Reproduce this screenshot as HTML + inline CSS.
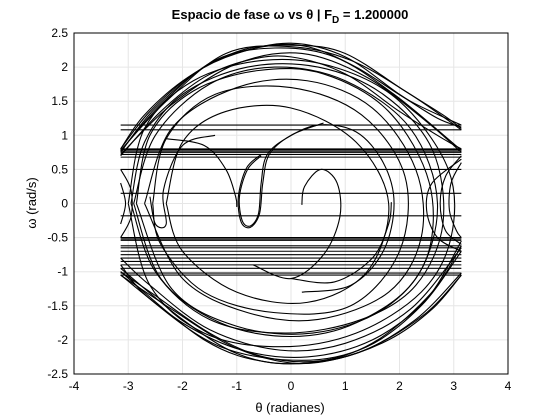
<!DOCTYPE html>
<html><head><meta charset="utf-8"><style>
body{margin:0;background:#fff;}
svg{display:block;font-family:"Liberation Sans",sans-serif;}
</style></head><body>
<svg id="chart" width="560" height="420">
<rect width="560" height="420" fill="#fff"/>
<g id="grid"></g>
<g id="series"></g>
<rect x="74" y="33" width="434" height="341" fill="none" stroke="#000" stroke-width="1"/>
<g id="ticks"></g>
<text x="290" y="19" text-anchor="middle" font-size="13" font-weight="bold">Espacio de fase ω vs θ | F<tspan font-size="10" dy="4">D</tspan><tspan dy="-4"> = 1.200000</tspan></text>
<text x="290" y="412" text-anchor="middle" font-size="13">θ (radianes)</text>
<text x="0" y="0" transform="translate(36,203) rotate(-90)" text-anchor="middle" font-size="13">ω (rad/s)</text>
</svg>
<script>
const xTicks=[-4,-3,-2,-1,0,1,2,3,4];
const yTicks=[-2.5,-2,-1.5,-1,-0.5,0,0.5,1,1.5,2,2.5];
const wrapLevels=[1.15,1.08,0.8,0.79,0.77,0.75,0.72,0.68,0.5,0.15,-0.18,-0.5,-0.52,-0.54,-0.62,-0.65,-0.7,-0.75,-0.8,-0.85,-0.9,-0.95,-1.02,-1.05];
const upperArcs=[
[[-3.14,0.8],[-2.6,1.35],[-1.8,1.9],[-1,2.2],[0,2.35],[1,2.15],[2,1.6],[2.7,1.25],[3.14,1.12]],
[[-3.14,0.75],[-2.5,1.4],[-1.5,2.05],[-0.5,2.3],[0.3,2.3],[1.2,2.0],[2.2,1.5],[3.14,1.15]],
[[-3.14,0.7],[-2.4,1.35],[-1.6,1.85],[-0.8,2.1],[0,2.15],[1,1.9],[2,1.35],[2.8,0.95],[3.14,0.8]],
[[-3.14,0.78],[-2.3,1.5],[-1.2,2.2],[0,2.3],[1.1,2.1],[2.2,1.6],[3.14,1.08]],
[[-3.14,0.72],[-2.2,1.45],[-1.0,2.05],[0.2,2.2],[1.4,1.85],[2.5,1.2],[3.14,0.75]],
[[-3.14,0.8],[-2.7,1.3],[-1.9,1.85],[-0.9,2.25],[0.1,2.32],[1.0,2.2],[2.1,1.65],[2.8,1.3],[3.14,1.1]],
[[-3.14,0.77],[-2.4,1.45],[-1.4,2.1],[-0.3,2.28],[0.8,2.15],[1.9,1.6],[3.14,0.78]]
];
const lowerArcs=[
[[3.14,-1.05],[2.5,-1.6],[1.5,-2.1],[0.5,-2.33],[-0.3,-2.3],[-1.2,-2.05],[-2.2,-1.55],[-3.14,-1.05]],
[[3.14,-0.62],[2.6,-1.3],[1.6,-2.0],[0.6,-2.3],[-0.5,-2.25],[-1.5,-1.9],[-2.5,-1.35],[-3.14,-1.0]],
[[3.14,-1.02],[2.3,-1.7],[1.2,-2.2],[0,-2.35],[-1,-2.2],[-2,-1.7],[-3.14,-0.95]],
[[3.14,-0.7],[2.4,-1.5],[1.4,-2.1],[0.2,-2.3],[-1.3,-2.1],[-2.6,-1.4],[-3.14,-0.9]],
[[3.14,-0.65],[2.2,-1.55],[1.0,-2.05],[-0.2,-2.15],[-1.5,-1.85],[-2.6,-1.2],[-3.14,-0.8]],
[[3.14,-0.55],[2.5,-1.4],[1.5,-2.0],[0.3,-2.25],[-0.9,-2.15],[-2.0,-1.75],[-3.14,-1.05]],
[[3.14,-1.05],[2.6,-1.55],[1.8,-2.0],[0.8,-2.28],[-0.4,-2.33],[-1.6,-2.0],[-3.14,-1.0]]
];
const loops=[
[[-2.9,0],[-2.5,1.0],[-1.5,1.75],[-0.3,2.0],[1,1.8],[2.2,1.1],[2.7,0],[2.3,-1.1],[1.2,-1.75],[0,-1.95],[-1.3,-1.75],[-2.4,-1.1],[-2.9,0]],
[[-2.7,0],[-2.2,1.1],[-1,1.7],[0.3,1.8],[1.5,1.4],[2.3,0.5],[2.4,-0.5],[1.8,-1.3],[0.5,-1.7],[-0.8,-1.6],[-2.0,-1.1],[-2.7,0]],
[[-2.3,0],[-2.0,0.9],[-1.2,1.35],[0,1.4],[1.2,0.9],[1.8,0],[1.4,-1.0],[0.3,-1.45],[-1,-1.3],[-2,-0.7],[-2.3,0]],
[[-3.0,0],[-2.7,1.1],[-1.8,1.8],[-0.5,2.1],[0.8,2.0],[2.0,1.5],[2.9,0.5],[2.95,-0.5],[2.4,-1.3],[1.2,-1.9],[-0.2,-2.1],[-1.6,-1.9],[-2.6,-1.2],[-3.0,0]],
[[-2.55,0],[-2.3,0.95],[-1.4,1.6],[0,1.7],[1.3,1.3],[2.1,0.4],[2.0,-0.7],[1.1,-1.5],[-0.3,-1.6],[-1.6,-1.3],[-2.4,-0.6],[-2.55,0]],
[[-2.85,0],[-2.6,1.0],[-1.8,1.65],[-0.6,1.95],[0.6,1.9],[1.8,1.35],[2.55,0.3],[2.5,-0.8],[1.7,-1.55],[0.4,-1.9],[-1.0,-1.8],[-2.2,-1.25],[-2.85,0]],
[[-2.95,0],[-2.7,0.9],[-2.0,1.6],[-0.8,2.0],[0.5,2.0],[1.7,1.6],[2.6,0.8],[2.8,-0.3],[2.3,-1.2],[1.3,-1.7],[-0.1,-1.9],[-1.5,-1.7],[-2.5,-1.0],[-2.95,0]]
];
const spirals=[
[[-2.3,0.95],[-1.6,0.85],[-1.2,0.5],[-1.02,0.1],[-1.0,-0.05]],
[[-0.55,0.7],[-0.8,0.5],[-0.95,0.1],[-0.9,-0.25],[-0.75,-0.33],[-0.6,-0.15],[-0.55,0.3],[-0.45,0.7],[-0.1,0.95],[0.5,1.15],[1.2,1.05],[1.7,0.6],[1.9,0],[1.7,-0.7],[1.1,-1.2],[0.2,-1.3]],
[[-0.55,0.72],[-0.82,0.52],[-0.97,0.1],[-0.92,-0.27],[-0.75,-0.35],[-0.58,-0.15],[-0.52,0.3],[-0.4,0.72],[0,1.0],[0.6,1.18]],
[[0.2,-0.02],[0.25,0.25],[0.55,0.5],[0.85,0.3],[0.9,-0.2],[0.6,-0.75],[0,-1.1],[-0.7,-0.9]],
[[3.14,0.7],[2.85,0.4],[2.75,0],[2.85,-0.4],[3.14,-0.6]],
[[3.14,0.6],[2.95,0.3],[2.92,-0.1],[3.05,-0.4],[3.14,-0.5]],
[[3.14,0.65],[2.6,0.3],[2.5,-0.1],[2.7,-0.5],[3.14,-0.7]],
[[-3.14,0.5],[-2.95,0.2],[-2.95,-0.2],[-3.14,-0.5]],
[[-3.14,0.3],[-3.05,0],[-3.14,-0.3]],
[[-1.4,1.0],[-2.0,0.85],[-2.35,0.2],[-2.3,-0.3],[-2.5,-0.3],[-2.6,0.1]],
[[1.85,0.02],[1.8,-0.3],[1.5,-0.8],[0.8,-1.15],[0,-1.1]]
];
const X0=74,X1=508,Y0=33,Y1=374;
function sx(v){return X0+(v+4)/8*(X1-X0);}
function sy(v){return Y1-(v+2.5)/5*(Y1-Y0);}
const NS='http://www.w3.org/2000/svg';
const grid=document.getElementById('grid'),ticks=document.getElementById('ticks'),series=document.getElementById('series');
xTicks.forEach(t=>{
 const l=document.createElementNS(NS,'line');l.setAttribute('x1',sx(t));l.setAttribute('x2',sx(t));l.setAttribute('y1',Y0);l.setAttribute('y2',Y1);l.setAttribute('stroke','#e6e6e6');
 
 
 grid.appendChild(l);
 const tx=document.createElementNS(NS,'text');tx.setAttribute('x',sx(t));tx.setAttribute('y',Y1+16);tx.setAttribute('text-anchor','middle');tx.setAttribute('font-size','12');tx.textContent=t;
 
 
 ticks.appendChild(tx);
});
yTicks.forEach(t=>{
 const l=document.createElementNS(NS,'line');l.setAttribute('y1',sy(t));l.setAttribute('y2',sy(t));l.setAttribute('x1',X0);l.setAttribute('x2',X1);l.setAttribute('stroke','#e6e6e6');
 
 
 grid.appendChild(l);
 const tx=document.createElementNS(NS,'text');tx.setAttribute('x',X0-6);tx.setAttribute('y',sy(t)+4);tx.setAttribute('text-anchor','end');tx.setAttribute('font-size','12');tx.textContent=t;
 
 
 ticks.appendChild(tx);
});
function smooth(pts){
 const p=pts.map(q=>[sx(q[0]),sy(q[1])]);
 let d='M'+p[0][0]+','+p[0][1];
 for(let i=0;i<p.length-1;i++){
  const a=p[i-1]||p[i],b=p[i],c=p[i+1],e=p[i+2]||c;
  d+=' C'+(b[0]+(c[0]-a[0])/6)+','+(b[1]+(c[1]-a[1])/6)+' '+(c[0]-(e[0]-b[0])/6)+','+(c[1]-(e[1]-b[1])/6)+' '+c[0]+','+c[1];
 }
 return d;
}
function addPath(d,name){
 const p=document.createElementNS(NS,'path');p.setAttribute('d',d);p.setAttribute('fill','none');p.setAttribute('stroke','#000');p.setAttribute('stroke-width','1.1');
 
 
 series.appendChild(p);
}
wrapLevels.forEach(w=>addPath('M'+sx(-3.14)+','+sy(w)+' L'+sx(3.14)+','+sy(w),'wrap-line'));
upperArcs.forEach(a=>addPath(smooth(a),'upper-arc'));
lowerArcs.forEach(a=>addPath(smooth(a),'lower-arc'));
loops.forEach(a=>addPath(smooth(a),'oscillation-loop'));
spirals.forEach(a=>addPath(smooth(a),'spiral'));
</script>
</body></html>
